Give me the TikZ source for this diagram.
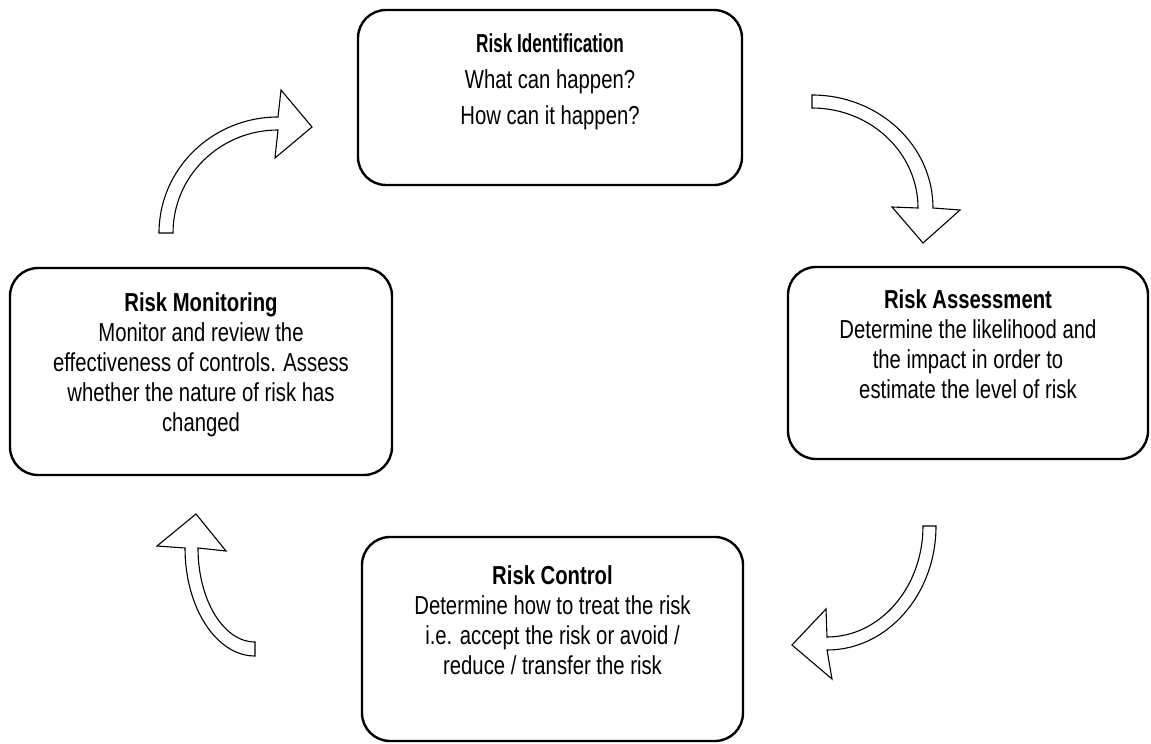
\documentclass[tikz,border=0pt]{standalone}
\usepackage{fontspec}
\setmainfont{Liberation Sans}[FakeStretch=0.78]
\newfontfamily\narrowsans{Liberation Sans}[FakeStretch=0.66]
\usetikzlibrary{positioning}
\begin{document}
\begin{tikzpicture}[x=1pt,y=-1pt,line join=round,font=\fontsize{26}{30}\selectfont]
	\tikzset{stage/.style={draw,line width=2.4pt,rounded corners=28pt,inner sep=0pt},
		stagetext/.style={align=center,inner sep=0pt},
		bigarrow/.style={draw,line width=1.1pt,fill=white,line join=miter}}
	\useasboundingbox (0,0) rectangle (1151,744);
	% the four stages
	\node[stage,minimum width=384pt,minimum height=175pt] (ident) at (550,97.5) {};
	\node[stage,minimum width=360pt,minimum height=192pt] (assess) at (968,363) {};
	\node[stage,minimum width=381pt,minimum height=204pt] (control) at (552.5,639) {};
	\node[stage,minimum width=382pt,minimum height=207pt] (monitor) at (201,371.5) {};
	\node[stagetext,below=25pt of ident.north,font=\fontsize{26}{36}\selectfont] (identtext) {{\narrowsans\bfseries Risk Identification}\\What can happen?\\How can it happen?};
	\node[stagetext,below=24pt of assess.north] (assesstext) {\textbf{Risk Assessment}\\Determine the likelihood and\\the impact in order to\\estimate the level of risk};
	\node[stagetext,below=30pt of control.north] (controltext) {\textbf{Risk Control}\\Determine how to treat the risk\\i.e. accept the risk or avoid /\\reduce / transfer the risk};
	\node[stagetext,below=26pt of monitor.north] (monitortext) {\textbf{Risk Monitoring}\\Monitor and review the\\effectiveness of controls. Assess\\whether the nature of risk has\\changed};
	% curved block arrows
	\draw[bigarrow] (159,233) arc[start angle=180,end angle=270,x radius=119,y radius=116] -- (281,90) -- (312,127) -- (275,158) -- (278,130) arc[start angle=270,end angle=180,x radius=105,y radius=103] -- cycle;
	\draw[bigarrow] (812,95) arc[start angle=270,end angle=360,x radius=121,y radius=113] -- (960,210) -- (923,243) -- (892,207) -- (918,208) arc[start angle=360,end angle=270,x radius=106,y radius=100] -- cycle;
	\draw[bigarrow] (936,526) arc[start angle=0,end angle=90,x radius=109,y radius=124] -- (832,679) -- (792,645) -- (826,609) -- (827,637) arc[start angle=90,end angle=0,x radius=96,y radius=111] -- cycle;
	\draw[bigarrow] (255,656) arc[start angle=90,end angle=180,x radius=70,y radius=108] -- (157,546) -- (196,514) -- (226,551) -- (198,548) arc[start angle=180,end angle=90,x radius=57,y radius=94] -- cycle;
\end{tikzpicture}
\end{document}
